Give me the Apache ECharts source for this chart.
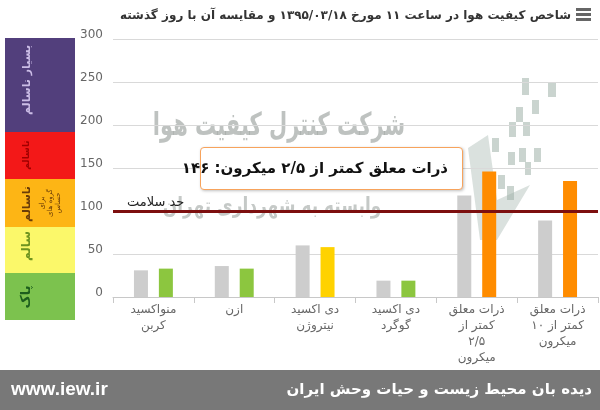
<!DOCTYPE html>
<html>
<head>
<meta charset="utf-8">
<script src="https://cdn.jsdelivr.net/npm/echarts@6/dist/echarts.min.js"></script>
<style>
html, body { margin: 0; padding: 0; background: #fff; }
#chart { width: 600px; height: 410px; }
</style>
</head>
<body>
<div id="chart"></div>
<script>
// data
var chartTitle = 'شاخص کیفیت هوا در ساعت ۱۱ مورخ ۱۳۹۵/۰۳/۱۸ و مقایسه آن با روز گذشته';
var categories = [
    'منواکسید\nکربن',
    'ازن',
    'دی اکسید\nنیتروژن',
    'دی اکسید\nگوگرد',
    'ذرات معلق\nکمتر از\n۲/۵\nمیکرون',
    'ذرات معلق\nکمتر از ۱۰\nمیکرون'
];
var yesterday = [31, 36, 60, 19, 118, 89];
var today = [33, 33, 58, 19, 146, 135];
var healthLimit = 100;
var healthLabel = 'حد سلامت';
var bandLabels = ['پاک', 'سالم', 'ناسالم', 'ناسالم', 'بسیار ناسالم'];
var sensitiveNote = 'برای\nگروه های\nحساس';
var watermark1 = 'شرکت کنترل کیفیت هوا';
var watermark2 = 'وابسته به شهرداری تهران';
var footerLeft = 'www.iew.ir';
var footerRight = 'دیده بان محیط زیست و حیات وحش ایران';
var shownIndex = 4;

function levelColor(v) {
    if (v <= 50) return '#8cc63f';
    if (v <= 100) return '#ffd200';
    if (v <= 150) return '#ff8c00';
    return '#ff0000';
}
function fa(n) {
    return String(n).replace(/\d/g, function (d) { return '۰۱۲۳۴۵۶۷۸۹'[d]; });
}

var myChart = echarts.init(document.getElementById('chart'));

var font = 'DejaVu Sans';
var bandColors = ['#7cc24e', '#fbf86a', '#fdb515', '#f31818', '#523f7c'];
var bandTextColors = ['#1d5e1d', '#6f9420', '#6a3c08', '#a00000', '#cbbde6'];
var bandY = [273, 227, 179, 132, 38];
var bandH = [47, 46, 48, 47, 94];
var bandTextY = [297, 246, 204, 155, 80];
var bandFont = [13, 12, 11, 9, 11];

var graphics = [];
// left colour scale
for (var i = 0; i < bandColors.length; i++) {
    graphics.push({
        type: 'rect', x: 5, y: bandY[i], shape: { width: 70, height: bandH[i] },
        style: { fill: bandColors[i] }, z: 1
    });
    graphics.push({
        type: 'text', x: 27, y: bandTextY[i], rotation: Math.PI / 2,
        style: {
            text: bandLabels[i], fill: bandTextColors[i], font: 'bold ' + bandFont[i] + 'px ' + font,
            align: 'center', verticalAlign: 'middle'
        }, z: 2
    });
}
graphics.push({
    type: 'text', x: 50, y: 203, rotation: Math.PI / 2,
    style: {
        text: sensitiveNote, fill: '#6a3c08', font: '7px ' + font,
        align: 'center', verticalAlign: 'middle', lineHeight: 8
    }, z: 2
});

// title with menu icon
graphics.push({
    type: 'text', x: 571, y: 16,
    style: { text: chartTitle, fill: '#333', font: 'bold 12px ' + font, align: 'right', verticalAlign: 'middle' }
});
[9, 14, 19].forEach(function (yy) {
    graphics.push({ type: 'rect', x: 576, y: yy - 1, shape: { width: 15, height: 3 }, style: { fill: '#666' } });
});

// faint watermark
graphics.push({
    type: 'text', x: 279, y: 127, z: 0, scaleY: 1.5,
    style: { text: watermark1, fill: 'rgba(110,120,115,0.45)', font: 'bold 21px ' + font, align: 'center', verticalAlign: 'middle' }
});
graphics.push({
    type: 'text', x: 272, y: 207, z: 0, scaleY: 1.3,
    style: { text: watermark2, fill: 'rgba(110,120,115,0.4)', font: 'bold 17px ' + font, align: 'center', verticalAlign: 'middle' }
});
graphics.push({
    type: 'polygon', z: 0,
    shape: { points: [[468, 148], [488, 135], [497, 200], [530, 185], [497, 240], [480, 240]] },
    style: { fill: 'rgba(150,170,160,0.35)' }
});
[[522, 78, 7, 17], [548, 82, 8, 15], [532, 100, 7, 14], [516, 107, 7, 15], [509, 122, 7, 15],
 [523, 122, 7, 14], [492, 138, 7, 14], [519, 148, 7, 14], [534, 148, 7, 14], [508, 152, 7, 13],
 [525, 162, 6, 13], [498, 175, 7, 14], [507, 186, 7, 14]].forEach(function (b) {
    graphics.push({ type: 'rect', x: b[0], y: b[1], shape: { width: b[2], height: b[3] }, z: 0,
        style: { fill: 'rgba(150,170,160,0.5)' } });
});

// footer banner
graphics.push({ type: 'rect', x: 0, y: 370, shape: { width: 600, height: 40 }, style: { fill: '#787878' } });
graphics.push({
    type: 'text', x: 11, y: 390,
    style: { text: footerLeft, fill: '#fff', font: 'bold 19px "Liberation Sans"', align: 'left', verticalAlign: 'middle' }
});
graphics.push({
    type: 'text', x: 592, y: 390,
    style: { text: footerRight, fill: '#fff', font: 'bold 15px ' + font, align: 'right', verticalAlign: 'middle' }
});

option = {
    animation: false,
    graphic: graphics,
    grid: { left: 113, right: 2, top: 39, bottom: 113 },
    tooltip: {
        trigger: 'item',
        triggerOn: 'none',
        alwaysShowContent: true,
        transitionDuration: 0,
        position: [200, 147],
        backgroundColor: '#fff',
        borderColor: '#f7a35c',
        borderWidth: 1,
        padding: [9, 14],
        textStyle: { color: '#111', fontSize: 15, fontWeight: 'bold', fontFamily: font },
        extraCssText: 'width:233px;text-align:center;direction:rtl;border-radius:4px;box-shadow:1px 1px 3px rgba(0,0,0,0.25);',
        formatter: function (p) {
            return p.name.replace(/\n/g, ' ') + ': ' + fa(p.value);
        }
    },
    xAxis: {
        type: 'category',
        data: categories,
        axisLine: { lineStyle: { color: '#c8c8c8' } },
        axisTick: { show: true, length: 6, lineStyle: { color: '#c8c8c8' } },
        axisLabel: { color: '#666', fontSize: 12, lineHeight: 16, margin: 5, fontFamily: font, interval: 0 }
    },
    yAxis: {
        type: 'value',
        min: 0, max: 300, interval: 50,
        axisLabel: { color: '#666', fontSize: 12, margin: 10, fontFamily: font, verticalAlign: 'bottom', lineHeight: 8 },
        splitLine: { lineStyle: { color: '#d9d9d9' } }
    },
    series: [
        {
            name: 'دیروز',
            type: 'bar',
            data: yesterday,
            barWidth: 14,
            barGap: '78%',
            itemStyle: { color: '#cdcdcd' },
            z: 3,
            markLine: {
                silent: true,
                symbol: 'none',
                data: [{ yAxis: healthLimit }],
                lineStyle: { color: '#7d0f0f', width: 3, type: 'solid' },
                label: {
                    show: true, position: 'insideStartTop', formatter: healthLabel,
                    color: '#222', fontSize: 13, fontFamily: font, distance: [14, 2]
                }
            }
        },
        {
            name: 'امروز',
            type: 'bar',
            data: today.map(function (v) { return { value: v, itemStyle: { color: levelColor(v) } }; }),
            barWidth: 14,
            z: 3
        }
    ]
};

myChart.setOption(option);
myChart.dispatchAction({ type: 'showTip', seriesIndex: 1, dataIndex: shownIndex });
</script>
</body>
</html>
